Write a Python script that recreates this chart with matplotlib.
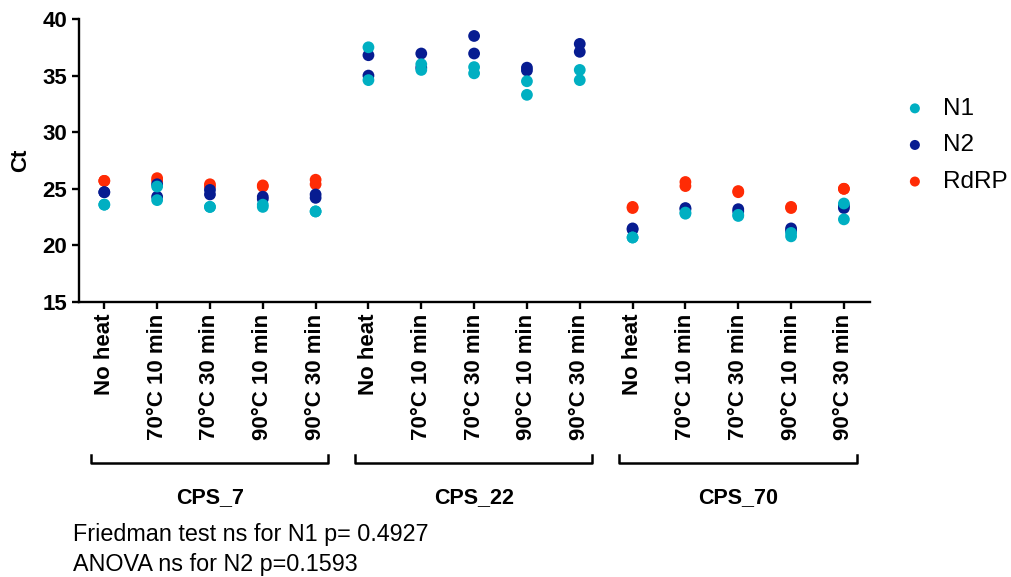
import numpy as np
import matplotlib.pyplot as plt
from matplotlib.transforms import blended_transform_factory

plt.rcParams['font.family'] = ['Liberation Sans', 'DejaVu Sans']

conditions = ['No heat', '70°C 10 min', '70°C 30 min', '90°C 10 min', '90°C 30 min']
groups = ['CPS_7', 'CPS_22', 'CPS_70']
labels = conditions * 3

# two replicate wells per condition
n1 = [[23.6, 23.6], [25.2, 24.0], [23.4, 23.4], [23.6, 23.4], [23.0, 23.0],
      [37.5, 34.6], [36.0, 35.5], [35.75, 35.2], [34.5, 33.3], [35.5, 34.6],
      [20.7, 20.7], [22.8, 22.9], [22.6, 22.7], [21.1, 20.8], [23.7, 22.3]]
n2 = [[24.7, 24.7], [25.4, 24.3], [24.9, 24.5], [24.3, 24.1], [24.5, 24.2],
      [36.8, 35.0], [36.95, 35.7], [38.5, 36.95], [35.7, 35.45], [37.8, 37.1],
      [21.5, 21.4], [23.3, 23.2], [23.2, 23.0], [21.5, 21.3], [23.5, 23.3]]
rdrp = [[25.7, 25.7], [25.94, 25.7], [25.4, 25.2], [25.3, 25.2], [25.8, 25.4],
        [np.nan, np.nan], [np.nan, np.nan], [np.nan, np.nan], [np.nan, np.nan], [np.nan, np.nan],
        [23.4, 23.3], [25.6, 25.24], [24.7, 24.8], [23.4, 23.3], [25.0, 25.0]]

stats_lines = ['Friedman test ns for N1 p= 0.4927', 'ANOVA ns for N2 p=0.1593']

c_n1 = '#00AFC2'
c_n2 = '#071C91'
c_rdrp = '#FF2B05'

fig = plt.figure(figsize=(10.12, 5.77), dpi=100)
ax = fig.add_axes([0.078, 0.4766, 0.782, 0.4905])

x = np.arange(len(labels))
for vals, col, name, z in [(rdrp, c_rdrp, 'RdRP', 3), (n2, c_n2, 'N2', 4), (n1, c_n1, 'N1', 5)]:
    arr = np.array(vals, dtype=float)
    xs = np.repeat(x, arr.shape[1])
    ax.scatter(xs, arr.ravel(), s=72, color=col, edgecolors='none', zorder=z, label=name)

ax.set_xlim(-0.48, 14.5)
ax.set_ylim(15, 40)
ax.set_yticks([15, 20, 25, 30, 35, 40])
ax.set_xticks(x)
ax.set_xticklabels(labels, rotation=90, fontsize=16, fontweight='bold')
for t in ax.get_yticklabels():
    t.set_fontsize(16)
    t.set_fontweight('bold')
ax.set_ylabel('Ct', fontsize=16, fontweight='bold', labelpad=8)
ax.spines['top'].set_visible(False)
ax.spines['right'].set_visible(False)
for s in ['left', 'bottom']:
    ax.spines[s].set_linewidth(1.7)
ax.tick_params(axis='both', width=1.7, length=5, pad=3.5)

handles, names = ax.get_legend_handles_labels()
order = [names.index(n) for n in ['N1', 'N2', 'RdRP']]
fig.legend([handles[i] for i in order], [names[i] for i in order],
           loc='upper left', bbox_to_anchor=(893 / 1012, 1 - 88 / 577), frameon=False,
           borderaxespad=0, fontsize=17.5, labelspacing=0.6, handlelength=1.0,
           handletextpad=0.65, markerscale=0.85)

# group brackets below the tick labels
tr = blended_transform_factory(ax.transData, fig.transFigure)
for i, g in enumerate(groups):
    x0 = i * 5 - 0.25
    x1 = i * 5 + 4.24
    ax.plot([x0, x0, x1, x1], [0.211, 0.198, 0.198, 0.211], color='black', lw=1.8,
            transform=tr, clip_on=False)
    ax.text(i * 5 + 2, 0.137, g, transform=tr, ha='center', va='center',
            fontsize=15.5, fontweight='bold')

fig.text(0.072, 1 - 535 / 577, stats_lines[0], ha='left', va='center', fontsize=16.8)
fig.text(0.072, 1 - 565 / 577, stats_lines[1], ha='left', va='center', fontsize=16.8)

fig.savefig('out.png', dpi=100)
